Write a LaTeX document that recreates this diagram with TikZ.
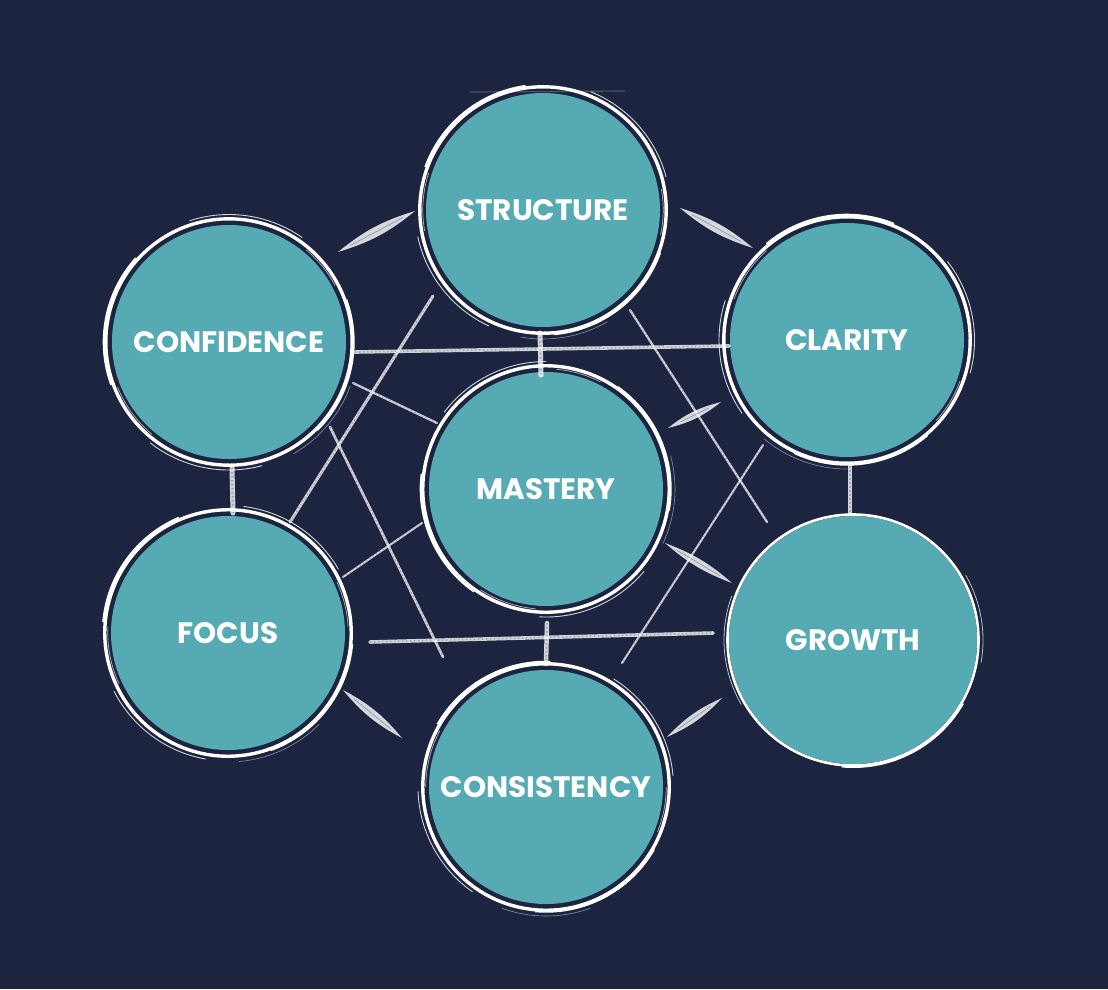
\documentclass[tikz,border=0pt]{standalone}
\usepackage{fontspec}
\setmainfont{Poppins}
\usetikzlibrary{calc}
\definecolor{bg}{RGB}{28,36,64}
\definecolor{tealc}{RGB}{86,170,180}
\newcommand\brushring[3]{%
 \begin{scope}[shift={(#1.center)}, rotate=#3]
  \draw[white, line width=3.4pt] (0,0) circle [radius=#2+6.2];
  \draw[white, line width=3pt] ({200}:{#2+7.8}) arc[start angle=200, end angle=262, radius=#2+7.8];
  \draw[white, line width=2.6pt] ({20}:{#2+7.4}) arc[start angle=20, end angle=85, radius=#2+7.4];
  \draw[white, line width=.9pt, opacity=.8] ({115}:{#2+11}) arc[start angle=115, end angle=168, radius=#2+11];
  \draw[white, line width=.9pt, opacity=.8] ({292}:{#2+10.5}) arc[start angle=292, end angle=345, radius=#2+10.5];
  \draw[white, line width=.7pt, opacity=.65] ({170}:{#2+3.2}) arc[start angle=170, end angle=198, radius=#2+3.2];
  \draw[white, line width=.7pt, opacity=.65] ({350}:{#2+3.2}) arc[start angle=350, end angle=372, radius=#2+3.2];
  \draw[white, line width=.6pt, opacity=.5] ({60}:{#2+12}) arc[start angle=60, end angle=100, radius=#2+12];
 \end{scope}}
\newcommand\chalkline[3]{%
 \draw[white, opacity=.8, line width=#1, line cap=round] #2 -- #3;
 \draw[bg, opacity=.25, line width=#1*.45, dash pattern=on 1.5pt off 2.5pt] #2 -- #3;}
\newcommand\lens[3]{%
 \fill[white, opacity=.82] #2 to[bend left=#1] #3 to[bend left=#1] #2;
 \draw[bg, opacity=.35, line width=.7pt, shorten <=14pt, shorten >=14pt] #2 -- #3;}
\begin{document}
\begin{tikzpicture}[x=1pt,y=-1pt,
  hub/.style={circle, fill=tealc, minimum size=234pt, inner sep=0pt, text=white,
    font=\bfseries\fontsize{29.5}{29.5}\selectfont}]
\fill[bg] (0,0) rectangle (1108,989);
\useasboundingbox (0,0) rectangle (1108,989);
% hubs
\node[hub] (structure) at (543,210) {STRUCTURE};
\node[hub] (confidence) at (229,342) {CONFIDENCE};
\node[hub] (clarity) at (847,340) {CLARITY};
\node[hub] (mastery) at (546,489) {MASTERY};
\node[hub] (focus) at (228,633) {FOCUS};
\node[hub, minimum size=248pt] (growth) at (853,640) {GROWTH};
\node[hub] (consistency) at (546,787) {CONSISTENCY};
% long chalk lines
\chalkline{3.6pt}{($(confidence.center)+(126,10)$)}{($(clarity.center)+(-118,6)$)}
\chalkline{3.6pt}{($(focus.center)+(142,9)$)}{($(growth.center)+(-140,-7)$)}
\chalkline{3pt}{($(focus.center)+(62,-111)$)}{($(structure.center)+(-110,86)$)}
\chalkline{2.6pt}{($(confidence.center)+(101,85)$)}{($(consistency.center)+(-103,-130)$)}
\chalkline{2.2pt}{($(confidence.center)+(124,41)$)}{($(mastery.center)+(-109,-66)$)}
\chalkline{2pt}{($(focus.center)+(115,-56)$)}{($(mastery.center)+(-124,34)$)}
\chalkline{2.2pt}{($(structure.center)+(87,100)$)}{($(growth.center)+(-86,-118)$)}
\chalkline{2pt}{($(clarity.center)+(-84,105)$)}{($(consistency.center)+(76,-124)$)}
% short vertical links
\chalkline{5pt}{($(structure.center)+(-3,123)$)}{($(mastery.center)+(-5,-114)$)}
\chalkline{4.5pt}{($(mastery.center)+(1,134)$)}{($(consistency.center)+(0,-123)$)}
\chalkline{5pt}{($(confidence.center)+(3,126)$)}{($(focus.center)+(5,-120)$)}
\chalkline{4pt}{($(clarity.center)+(3,126)$)}{($(growth.center)+(-3,-126)$)}
% tapered brush strokes
\lens{11}{($(structure.center)+(-128,1)$)}{($(confidence.center)+(109,-90)$)}
\lens{11}{($(structure.center)+(137,-2)$)}{($(clarity.center)+(-94,-92)$)}
\lens{11}{($(focus.center)+(115,57)$)}{($(consistency.center)+(-144,-49)$)}
\lens{11}{($(growth.center)+(-131,58)$)}{($(consistency.center)+(121,-50)$)}
\lens{12}{($(mastery.center)+(122,-61)$)}{($(clarity.center)+(-126,62)$)}
\lens{10}{($(mastery.center)+(119,54)$)}{($(growth.center)+(-121,-57)$)}
% faint stroke above structure
\draw[white, opacity=.22, line width=1.2pt] ($(structure.center)+(-73,-118)$) -- ($(structure.center)+(82,-119)$);
% brush rings
\brushring{structure}{117}{0}
\brushring{confidence}{117}{40}
\brushring{clarity}{117}{-30}
\brushring{mastery}{117}{75}
\brushring{focus}{117}{15}
\brushring{consistency}{117}{-10}
\begin{scope}[shift={(growth.center)}]
 \draw[white, line width=2.6pt] (0,0) circle [radius=125.5];
 \draw[white, line width=2pt] ({30}:{127}) arc[start angle=30, end angle=95, radius=127];
 \draw[white, line width=.8pt, opacity=.7] ({330}:{130}) arc[start angle=330, end angle=370, radius=130];
 \draw[white, line width=.8pt, opacity=.7] ({150}:{129}) arc[start angle=150, end angle=200, radius=129];
\end{scope}
\end{tikzpicture}
\end{document}
